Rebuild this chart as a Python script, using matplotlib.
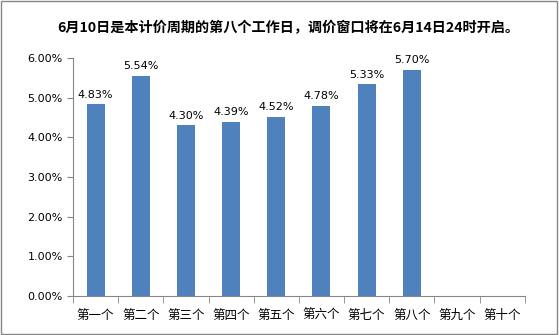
import matplotlib
matplotlib.use("Agg")
import matplotlib.pyplot as plt
from matplotlib.ticker import FuncFormatter

plt.rcParams['font.family'] = ['DejaVu Sans', 'Noto Sans CJK SC']

# 各工作日变化率
days = ["第一个", "第二个", "第三个", "第四个", "第五个",
        "第六个", "第七个", "第八个", "第九个", "第十个"]
rates = [4.83, 5.54, 4.30, 4.39, 4.52, 4.78, 5.33, 5.70]
title = "6月10日是本计价周期的第八个工作日，调价窗口将在6月14日24时开启。"

fig = plt.figure(figsize=(5.59, 3.35), dpi=100)
ax = fig.add_axes([0.1306, 0.1164, 0.808, 0.711])

x = list(range(len(days)))
bars = ax.bar(x[:len(rates)], rates, width=0.4, color="#4f81bd")
for b, v in zip(bars, rates):
    ax.text(b.get_x() + b.get_width() / 2, v + 0.12, f"{v:.2f}%",
            ha="center", va="bottom", fontsize=8)

ax.set_xlim(-0.5, len(days) - 0.5)
ax.set_ylim(0, 6)
ax.set_yticks([0, 1, 2, 3, 4, 5, 6])
ax.yaxis.set_major_formatter(FuncFormatter(lambda v, p: f"{v:.2f}%"))
ax.set_xticks(x)
ax.set_xticklabels(days, family=['Noto Sans CJK SC'])
ax.set_xticks([i - 0.5 for i in range(len(days) + 1)], minor=True)
ax.tick_params(axis="x", which="major", length=0, labelsize=9, pad=9)
ax.tick_params(axis="x", which="minor", length=5, color="#868686")
ax.tick_params(axis="y", length=4, color="#868686", labelsize=8)

for s in ["top", "right"]:
    ax.spines[s].set_visible(False)
for s in ["left", "bottom"]:
    ax.spines[s].set_color("#868686")

fig.text(0.515, 0.915, title, ha="center", va="center", fontsize=10.2,
         fontweight="bold", family=['Noto Sans CJK SC', 'DejaVu Sans'])

# 外框
fig.patches.append(plt.Rectangle((0.002, 0.003), 0.995, 0.993, transform=fig.transFigure,
                                 fill=False, edgecolor="#868686", linewidth=1))

fig.savefig("out.png", dpi=100)
